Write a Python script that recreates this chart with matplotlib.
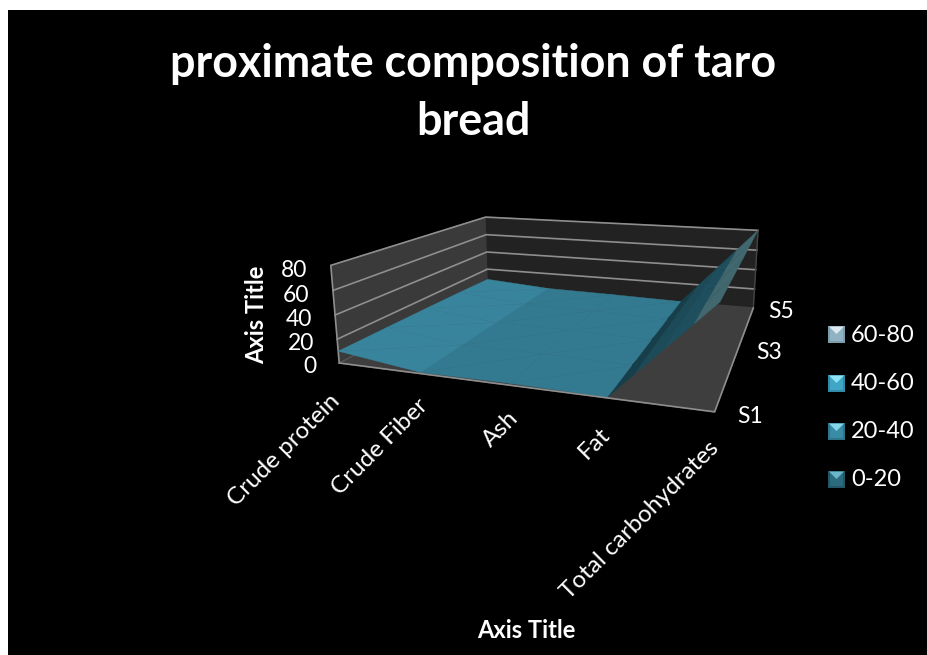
import numpy as np
import matplotlib
matplotlib.use('Agg')
import matplotlib.pyplot as plt
from matplotlib.patches import Polygon, Rectangle
from mpl_toolkits.mplot3d import proj3d
from mpl_toolkits.mplot3d.art3d import Poly3DCollection

plt.rcParams['font.family'] = ['Lato', 'DejaVu Sans']

categories = ['Crude protein', 'Crude Fiber', 'Ash', 'Fat', 'Total carbohydrates']
series_ticks = ['S1', 'S3', 'S5']
series_pos = [0, 2, 4]
z_ticks = [0, 20, 40, 60, 80]
band_labels = ['60-80', '40-60', '20-40', '0-20']

# percent per sample (rows) and component (columns)
crude_protein = [10.0, 9.8, 9.5, 9.0, 8.0]
crude_fiber = [1.0, 1.5, 2.0, 2.5, 3.0]
ash = [1.5, 1.6, 1.8, 1.9, 2.0]
fat = [0.5, 0.5, 0.5, 0.5, 0.5]
total_carbs = [76.0, 77.0, 78.0, 79.0, 80.0]

Z = np.array([crude_protein, crude_fiber, ash, fat, total_carbs])

W, H = 927, 655
fig = plt.figure(figsize=(W/100, H/100), dpi=100, facecolor='white')

# pixel canvas for the background, titles and legend
bg = fig.add_axes([0, 0, 1, 1], zorder=0)
bg.set_xlim(0, W)
bg.set_ylim(H, 0)
bg.axis('off')
bg.add_patch(Rectangle((8, 10), W-8, H-10, fc='black', ec='none'))

# camera of the 3D box
s, cx, cy = 2414.632, 570.919, 289.621
ax = fig.add_axes([0, 0, 1, 1], projection='3d', zorder=1, computed_zorder=False)
ax.view_init(elev=14.0036, azim=-70.7787, roll=0.1889)
ax.set_proj_type('persp', focal_length=0.2955)
ax.set_box_aspect((1, 0.9185, 0.2681))
x0, x1 = ax.viewLim.intervalx
y0, y1 = ax.viewLim.intervaly
ax.set_position([(cx + s*x0)/W, 1 - (cy - s*y0)/H, s*(x1-x0)/W, s*(y1-y0)/H])
ax.patch.set_visible(False)

ax.grid(False)
ax.set_xticks([])
ax.set_yticks([])
ax.set_zticks([])
for axis, col in ((ax.xaxis, '#3a3a3a'), (ax.yaxis, '#222222'), (ax.zaxis, '#3e3e3e')):
    axis.set_pane_color(col)
    axis.line.set_color((0, 0, 0, 0))

line_col = '#8e8e8e'
for v in z_ticks[1:-1]:
    ax.plot([0, 0, 4], [0, 4, 4], [v, v, v], color=line_col, lw=1.2, zorder=2, clip_on=False)
ax.plot([0, 0, 0, 4], [0, 0, 4, 4], [0, 80, 80, 80], color=line_col, lw=1.2, zorder=2, clip_on=False)
ax.plot([0, 0], [0, 4], [0, 0], color='#555555', lw=1, zorder=2, clip_on=False)
ax.plot([4, 4], [4, 4], [0, 80], color='#444444', lw=1, zorder=2, clip_on=False)

# surface split along the 20-unit bands
bands = [(0, 20), (20, 40), (40, 60), (60, 80)]
steep_cols = ['#173f4b', '#1c4b59', '#1e4f5e', '#41676f']
flat_cols = ['#337a90', '#38849c', '#38849c', '#38849c']


def clip(poly, level, keep_above):
    out = []
    n = len(poly)
    for i in range(n):
        a, b = poly[i], poly[(i+1) % n]
        ina = a[2] >= level if keep_above else a[2] <= level
        inb = b[2] >= level if keep_above else b[2] <= level
        if ina:
            out.append(a)
        if ina != inb:
            t = (level - a[2])/(b[2] - a[2])
            out.append(a + t*(b - a))
    return out


polys, cols = [], []
for i in range(4):
    for j in range(4):
        p00 = np.array([i, j, Z[i, j]], float)
        p10 = np.array([i+1, j, Z[i+1, j]], float)
        p11 = np.array([i+1, j+1, Z[i+1, j+1]], float)
        p01 = np.array([i, j+1, Z[i, j+1]], float)
        for tri in ([p00, p10, p11], [p00, p11, p01]):
            zspan = max(p[2] for p in tri) - min(p[2] for p in tri)
            for k, (lo, hi) in enumerate(bands):
                piece = clip(tri, lo, True)
                piece = clip(piece, hi, False) if piece else piece
                if len(piece) < 3:
                    continue
                polys.append(piece)
                if zspan > 20:
                    cols.append(steep_cols[k])
                elif i == 0:
                    cols.append('#38849c')
                else:
                    cols.append(flat_cols[k])

surf = Poly3DCollection(polys, facecolors=cols, edgecolors=cols, linewidths=0.3, zsort='average')
surf.set_zorder(3)
surf.set_clip_on(False)
ax.add_collection3d(surf)

ax.plot([0, 4, 4], [0, 0, 4], [0, 0, 0], color=line_col, lw=1.2, zorder=4, clip_on=False)

ax.set_xlim(0, 4, view_margin=0)
ax.set_ylim(0, 4, view_margin=0)
ax.set_zlim(0, 80, view_margin=0)


# labels sit on the pixel canvas at the projected spot of a box position
def to_canvas(x, y, z):
    tx, ty, _ = proj3d.proj_transform(x, y, z, ax.get_proj())
    return cx + s*float(tx), cy - s*float(ty)


tick_fs = 16.5
for v in z_ticks:
    px, py = to_canvas(-0.31, 0, v)
    bg.text(px + 1, py + 7, str(v), color='white', fontsize=tick_fs, ha='right', va='center')

label_nudge = [(-5, 8), (2, 1), (4, 1), (-1, 3), (2, 1)]
for i, name in enumerate(categories):
    px, py = to_canvas(i, 0, -23)
    bg.text(px + label_nudge[i][0], py + label_nudge[i][1], name, color='white', fontsize=17.5,
            rotation=45, ha='right', va='center', rotation_mode='anchor')
for pos, name in zip(series_pos, series_ticks):
    px, py = to_canvas(4.2, pos, 0)
    bg.text(px, py + 2, name, color='white', fontsize=tick_fs, ha='left', va='center')

# titles
bg.text(473, 77, 'proximate composition of taro', color='white', fontsize=32.3,
        fontweight='bold', ha='center', va='baseline')
bg.text(473, 135, 'bread', color='white', fontsize=32.3, fontweight='bold',
        ha='center', va='baseline')
bg.text(526, 630, 'Axis Title', color='white', fontsize=17, fontweight='bold',
        ha='center', va='center')
bg.text(257, 315, 'Axis Title', color='white', fontsize=17, fontweight='bold',
        ha='center', va='center', rotation=90)

# bevelled legend keys
legend_y = [334, 383, 431, 479]
key_mid = ['#8fb3c2', '#3fa6c6', '#3a8ca6', '#2c6a7e']
key_top = ['#dbe8ee', '#8ee4f5', '#84d8ea', '#6cb6cb']
key_low = ['#7c9dab', '#328aa6', '#2f7489', '#235667']
for yc, label, mid, top, low in zip(legend_y, band_labels, key_mid, key_top, key_low):
    l, r, t, b = 828, 845, yc - 8.5, yc + 8.5
    bg.add_patch(Rectangle((l, t), r-l, b-t, fc=low, ec='none'))
    bg.add_patch(Polygon([(l+2, t+2), (r-2, t+2), (r-2, b-2), (l+2, b-2)], fc=mid, ec='none'))
    bg.add_patch(Polygon([(l+1, t+1), (r-1, t+1), ((l+r)/2, yc)], fc=top, ec='none'))
    bg.text(851, yc + 1, label, color='white', fontsize=17, ha='left', va='center')

fig.savefig('out.png', dpi=100, facecolor='white')
